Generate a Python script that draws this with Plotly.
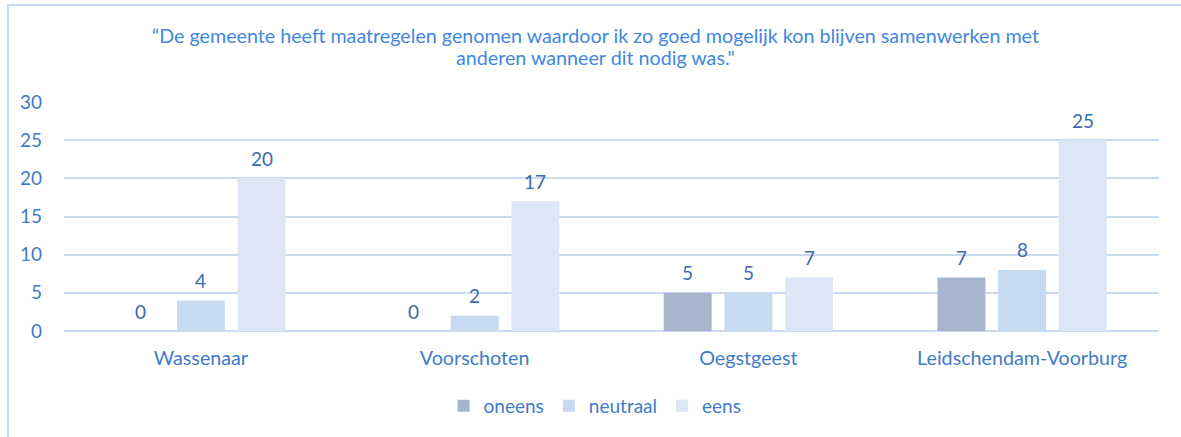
import plotly.graph_objects as go

categories = ["Wassenaar", "Voorschoten", "Oegstgeest", "Leidschendam-Voorburg"]
series_names = ["oneens", "neutraal", "eens"]
oneens = [0, 0, 5, 7]
neutraal = [4, 2, 5, 8]
eens = [20, 17, 7, 25]
y_ticks = [0, 5, 10, 15, 20, 25, 30]
title_line1 = "“De gemeente heeft maatregelen genomen waardoor ik zo goed mogelijk kon blijven samenwerken met"
title_line2 = "anderen wanneer dit nodig was.\""

colors = ["#A6B5CB", "#C6DAF2", "#DCE6F6"]
FONT = "Lato, Calibri, sans-serif"
TICK_COLOR = "#3E7CC8"
LABEL_COLOR = "#3B6AAE"
TITLE_COLOR = "#3F88E0"
bargap = 0.335

W, H = 1181, 437
PL, PT, PW, PH = 64, 102, 1095, 229

fig = go.Figure()
all_series = [oneens, neutraal, eens]
for name, vals, col in zip(series_names, all_series, colors):
    fig.add_trace(go.Bar(
        name=name, x=categories, y=vals, marker=dict(color=col, line=dict(width=0)),
    ))

slot = (1 - bargap) / 3
annotations = []
for i, vals in enumerate(all_series):
    for j, v in enumerate(vals):
        annotations.append(dict(
            x=j + (i - 1) * slot, y=v, xref="x", yref="y", text=str(v),
            showarrow=False, yshift=20, yanchor="middle",
            font=dict(family=FONT, size=19, color=LABEL_COLOR),
        ))

for txt, py in [(title_line1, 35), (title_line2, 57)]:
    annotations.append(dict(
        x=0.5, xref="paper", y=1 + (PT - py) / PH, yref="paper", text=txt,
        showarrow=False, yanchor="middle", xshift=-16,
        font=dict(family=FONT, size=19.7, color=TITLE_COLOR),
    ))

fig.update_layout(
    width=W, height=H,
    margin=dict(l=PL, r=W - PL - PW, t=PT, b=H - PT - PH, autoexpand=False),
    paper_bgcolor="white", plot_bgcolor="white",
    barmode="group", bargap=bargap, bargroupgap=0.21,
    font=dict(family=FONT, color=TICK_COLOR),
    showlegend=True,
    legend=dict(orientation="h", x=0.485, xanchor="center", y=-(406 - (PT + PH)) / PH, yanchor="middle",
                font=dict(family=FONT, size=19, color=TICK_COLOR), itemclick=False, itemwidth=30),
    xaxis=dict(showgrid=False, showline=False, ticks="", zeroline=False, automargin=False,
               tickfont=dict(family=FONT, size=19.7, color=TICK_COLOR), ticklabelstandoff=13),
    yaxis=dict(range=[0, 30], tickvals=y_ticks, showgrid=True, gridcolor="#C9DBF1", gridwidth=2,
               zeroline=True, zerolinecolor="#C9DBF1", zerolinewidth=2, showline=False, ticks="",
               automargin=False,
               tickfont=dict(family=FONT, size=19, color=TICK_COLOR), ticklabelstandoff=21),
    annotations=annotations,
)

# chart-area border (extends past the right and bottom of the view)
fig.add_shape(type="rect", xref="paper", yref="paper",
              x0=(8 - PL) / PW, x1=1.2, y0=-0.8, y1=1 + (PT - 5) / PH,
              line=dict(color="#C9DBF1", width=2), fillcolor="rgba(0,0,0,0)", layer="below")

fig.write_html(
    "out.html",
    config={"displayModeBar": False},
    post_script="document.body.style.margin='0';document.body.style.overflow='hidden';",
)
